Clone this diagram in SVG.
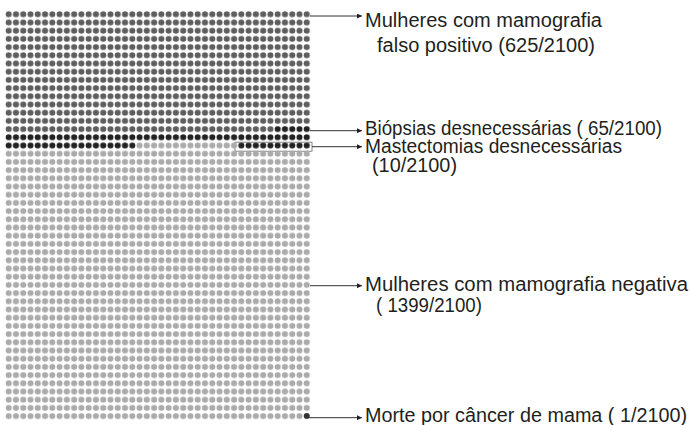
<svg xmlns="http://www.w3.org/2000/svg" width="690" height="425" viewBox="0 0 690 425">
<style>
.t{font-family:"Liberation Sans",Arial,sans-serif;font-size:19.5px;fill:#231f20}
.c{stroke:#333;stroke-width:1;fill:none}
</style>
<defs>
<pattern id="pd" patternUnits="userSpaceOnUse" x="5.065" y="10.2" width="7.27" height="8.2"><circle cx="3.635" cy="4.1" r="3" fill="#5e5e5e"/></pattern>
<pattern id="pb" patternUnits="userSpaceOnUse" x="5.065" y="10.2" width="7.27" height="8.2"><circle cx="3.635" cy="4.1" r="3" fill="#222"/></pattern>
<pattern id="pl" patternUnits="userSpaceOnUse" x="5.065" y="10.2" width="7.27" height="8.2"><circle cx="3.635" cy="4.1" r="3" fill="#ababab"/></pattern>
<marker id="ah" markerUnits="userSpaceOnUse" markerWidth="5" markerHeight="5" refX="5" refY="2.5" orient="auto"><path d="M0,0L5,2.5L0,5z" fill="#231f20"/></marker>
</defs>
<g id="falso-positivo">
<rect x="5.065" y="10.2" width="305.34" height="114.8" fill="url(#pd)"/>
<rect x="5.065" y="125" width="268.99" height="8.2" fill="url(#pd)"/>
</g>
<g id="biopsias">
<rect x="274.055" y="125" width="36.35" height="8.2" fill="url(#pb)"/>
<rect x="5.065" y="133.2" width="305.34" height="8.2" fill="url(#pb)"/>
<rect x="5.065" y="141.4" width="130.86" height="8.2" fill="url(#pb)"/>
</g>
<g id="mastectomias">
<rect x="237.705" y="141.4" width="72.7" height="8.2" fill="url(#pb)"/>
<rect x="235" y="142.2" width="77" height="9" fill="none" stroke="#6a6a6a" stroke-width="0.8"/>
</g>
<g id="negativa">
<rect x="135.925" y="141.4" width="101.78" height="8.2" fill="url(#pl)"/>
<rect x="5.065" y="149.6" width="305.34" height="262.4" fill="url(#pl)"/>
<rect x="5.065" y="411.8" width="298.07" height="8.2" fill="url(#pl)"/>
</g>
<g id="morte">
<circle cx="306.77" cy="416.1" r="3" fill="#333"/>
</g>
<g id="connectors">
<line class="c" x1="310" y1="16" x2="362" y2="16" marker-end="url(#ah)"/>
<line class="c" x1="310" y1="130.7" x2="362" y2="130.7" marker-end="url(#ah)"/>
<line class="c" x1="312" y1="146.7" x2="362" y2="146.7" marker-end="url(#ah)"/>
<line class="c" x1="310" y1="285.7" x2="362" y2="285.7" marker-end="url(#ah)"/>
<line class="c" x1="309" y1="417.7" x2="362" y2="417.7" marker-end="url(#ah)"/>
</g>
<g id="labels">
<text class="t" x="365" y="27" textLength="237" lengthAdjust="spacingAndGlyphs">Mulheres com mamografia</text>
<text class="t" x="377" y="52" textLength="218" lengthAdjust="spacingAndGlyphs">falso positivo (625/2100)</text>
<text class="t" x="365" y="134.5" textLength="297" lengthAdjust="spacingAndGlyphs">Biópsias desnecessárias ( 65/2100)</text>
<text class="t" x="365" y="152.5" textLength="257" lengthAdjust="spacingAndGlyphs">Mastectomias desnecessárias</text>
<text class="t" x="372" y="172" textLength="85" lengthAdjust="spacingAndGlyphs">(10/2100)</text>
<text class="t" x="365" y="291" textLength="323" lengthAdjust="spacingAndGlyphs">Mulheres com mamografia negativa</text>
<text class="t" x="376" y="312" textLength="106" lengthAdjust="spacingAndGlyphs">( 1399/2100)</text>
<text class="t" x="365" y="421.5" textLength="322" lengthAdjust="spacingAndGlyphs">Morte por câncer de mama ( 1/2100)</text>
</g>
</svg>
